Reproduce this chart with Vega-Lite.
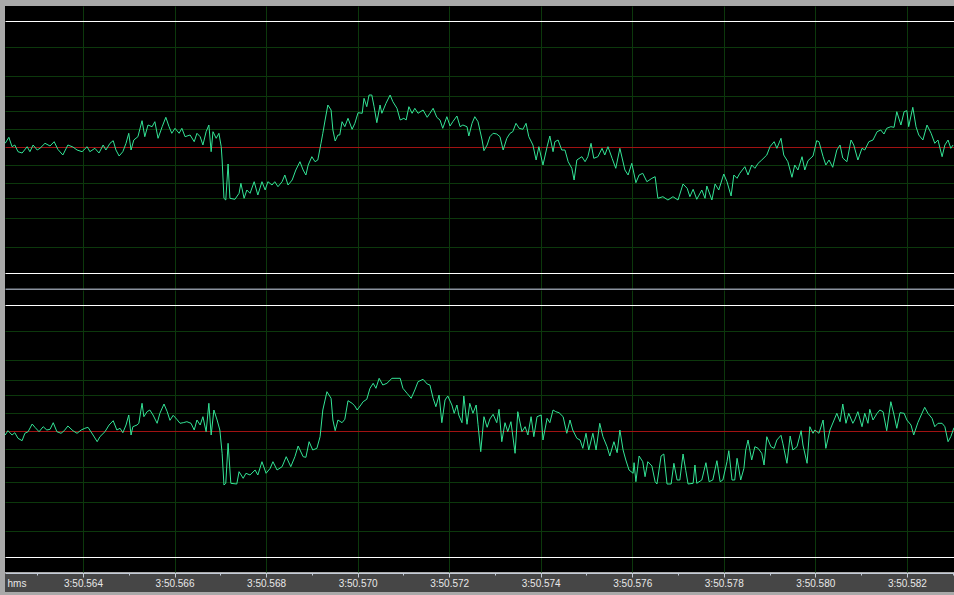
{
  "$schema": "https://vega.github.io/schema/vega-lite/v6.json",
  "background": "#a9a9a9",
  "padding": {"left": 5, "top": 6, "right": 0, "bottom": 4},
  "config": {
    "view": {"fill": "#000000", "stroke": null}
  },
  "datasets": {
    "L": [
      {"t":562.30,"v":3.7},{"t":562.38,"v":9.7},{"t":562.45,"v":0.3},{"t":562.51,"v":2},{"t":562.58,"v":-4.7},{"t":562.67,"v":-6},{"t":562.78,"v":0.3},{"t":562.84,"v":-4.7},{"t":562.91,"v":2},{"t":563.00,"v":-3},
      {"t":563.06,"v":-1.3},{"t":563.17,"v":3.7},{"t":563.28,"v":1},{"t":563.37,"v":5.3},{"t":563.45,"v":-2.3},{"t":563.56,"v":-8},{"t":563.67,"v":2},{"t":563.78,"v":0},{"t":563.87,"v":-3},{"t":563.98,"v":-4.7},
      {"t":564.09,"v":0.3},{"t":564.15,"v":-4.7},{"t":564.26,"v":-1.3},{"t":564.35,"v":-6},{"t":564.44,"v":2},{"t":564.50,"v":-3},{"t":564.59,"v":3.7},{"t":564.66,"v":6.3},{"t":564.72,"v":-3},{"t":564.79,"v":-9},
      {"t":564.87,"v":-4.7},{"t":564.94,"v":3.7},{"t":565.00,"v":13.7},{"t":565.05,"v":-3},{"t":565.11,"v":7},{"t":565.20,"v":10.3},{"t":565.29,"v":26.3},{"t":565.35,"v":10.3},{"t":565.42,"v":22},{"t":565.51,"v":20.3},
      {"t":565.57,"v":25.3},{"t":565.64,"v":8.7},{"t":565.73,"v":20.3},{"t":565.81,"v":29.7},{"t":565.88,"v":20.3},{"t":565.94,"v":13.7},{"t":566.01,"v":18.7},{"t":566.10,"v":13.7},{"t":566.16,"v":18.7},{"t":566.23,"v":10.3},
      {"t":566.34,"v":12},{"t":566.43,"v":5.3},{"t":566.49,"v":13.7},{"t":566.56,"v":10.3},{"t":566.62,"v":2},{"t":566.69,"v":15.3},{"t":566.75,"v":22},{"t":566.80,"v":-4.7},{"t":566.84,"v":15.3},{"t":566.91,"v":8.7},
      {"t":566.97,"v":13.7},{"t":567.02,"v":0.3},{"t":567.04,"v":-13},{"t":567.08,"v":-51.3},{"t":567.12,"v":-53},{"t":567.17,"v":-17},{"t":567.21,"v":-51.3},{"t":567.32,"v":-52.3},{"t":567.41,"v":-46.3},{"t":567.45,"v":-36.3},
      {"t":567.52,"v":-51.3},{"t":567.58,"v":-43},{"t":567.65,"v":-46.3},{"t":567.74,"v":-34.7},{"t":567.82,"v":-48},{"t":567.91,"v":-34.7},{"t":567.98,"v":-43},{"t":568.04,"v":-34.7},{"t":568.13,"v":-38},{"t":568.19,"v":-34.7},
      {"t":568.26,"v":-39.7},{"t":568.35,"v":-34.7},{"t":568.41,"v":-28},{"t":568.48,"v":-38},{"t":568.57,"v":-33},{"t":568.65,"v":-23},{"t":568.74,"v":-14.7},{"t":568.81,"v":-23},{"t":568.87,"v":-28},{"t":568.92,"v":-18},
      {"t":569.00,"v":-9.7},{"t":569.07,"v":-14.7},{"t":569.13,"v":-13},{"t":569.20,"v":3.7},{"t":569.24,"v":13.7},{"t":569.29,"v":27},{"t":569.35,"v":42},{"t":569.42,"v":37},{"t":569.46,"v":17},{"t":569.51,"v":6},
      {"t":569.57,"v":12},{"t":569.61,"v":12},{"t":569.66,"v":25.3},{"t":569.72,"v":20.3},{"t":569.79,"v":28.7},{"t":569.88,"v":17.7},{"t":569.94,"v":23.7},{"t":570.01,"v":34.3},{"t":570.10,"v":33.7},{"t":570.14,"v":48.7},
      {"t":570.20,"v":40.3},{"t":570.25,"v":52},{"t":570.31,"v":52},{"t":570.36,"v":40.3},{"t":570.42,"v":24.3},{"t":570.49,"v":42},{"t":570.53,"v":33.7},{"t":570.62,"v":43.7},{"t":570.71,"v":52},{"t":570.77,"v":45.3},
      {"t":570.86,"v":38.7},{"t":570.93,"v":27},{"t":571.01,"v":28.7},{"t":571.06,"v":27},{"t":571.12,"v":40.3},{"t":571.19,"v":33.7},{"t":571.25,"v":38.7},{"t":571.32,"v":33.7},{"t":571.43,"v":37},{"t":571.52,"v":29.7},
      {"t":571.58,"v":33.7},{"t":571.65,"v":38.7},{"t":571.73,"v":29.7},{"t":571.80,"v":27},{"t":571.86,"v":18.7},{"t":571.95,"v":30.3},{"t":572.02,"v":21},{"t":572.08,"v":25.3},{"t":572.17,"v":31},{"t":572.24,"v":20.3},
      {"t":572.30,"v":22},{"t":572.39,"v":20.3},{"t":572.43,"v":11},{"t":572.50,"v":23.7},{"t":572.56,"v":30.3},{"t":572.63,"v":25.3},{"t":572.72,"v":7},{"t":572.76,"v":-3.7},{"t":572.83,"v":2},{"t":572.89,"v":10.3},
      {"t":572.96,"v":13.7},{"t":573.04,"v":13},{"t":573.11,"v":10.3},{"t":573.18,"v":-3},{"t":573.26,"v":8.7},{"t":573.33,"v":13.7},{"t":573.39,"v":15.3},{"t":573.46,"v":23.7},{"t":573.53,"v":18.7},{"t":573.61,"v":17.7},
      {"t":573.68,"v":23.7},{"t":573.74,"v":10.3},{"t":573.83,"v":2},{"t":573.90,"v":-13},{"t":573.96,"v":0.3},{"t":574.05,"v":-18},{"t":574.14,"v":0.3},{"t":574.20,"v":11},{"t":574.27,"v":-4.7},{"t":574.31,"v":5.3},
      {"t":574.38,"v":7},{"t":574.46,"v":-3},{"t":574.53,"v":-3},{"t":574.60,"v":-14.7},{"t":574.68,"v":-21.3},{"t":574.73,"v":-33},{"t":574.79,"v":-13},{"t":574.90,"v":-9.7},{"t":574.97,"v":-14.7},{"t":575.03,"v":-9.7},
      {"t":575.10,"v":3.7},{"t":575.16,"v":-11.3},{"t":575.25,"v":-9.7},{"t":575.34,"v":-1.3},{"t":575.40,"v":-8},{"t":575.47,"v":0.3},{"t":575.56,"v":-11.3},{"t":575.64,"v":-21.3},{"t":575.73,"v":-1.3},{"t":575.84,"v":-23},
      {"t":575.91,"v":-28},{"t":575.99,"v":-16.3},{"t":576.08,"v":-35.7},{"t":576.15,"v":-28},{"t":576.23,"v":-26.3},{"t":576.32,"v":-34.7},{"t":576.43,"v":-31.3},{"t":576.50,"v":-29.7},{"t":576.56,"v":-51.3},{"t":576.67,"v":-49.7},
      {"t":576.78,"v":-53},{"t":576.89,"v":-49.7},{"t":577.00,"v":-53},{"t":577.11,"v":-37},{"t":577.20,"v":-41.3},{"t":577.26,"v":-49.7},{"t":577.33,"v":-42.3},{"t":577.41,"v":-52.3},{"t":577.52,"v":-43},{"t":577.59,"v":-51.3},
      {"t":577.63,"v":-39},{"t":577.74,"v":-53},{"t":577.81,"v":-37},{"t":577.89,"v":-43},{"t":578.00,"v":-27},{"t":578.07,"v":-34.7},{"t":578.16,"v":-49},{"t":578.22,"v":-28},{"t":578.29,"v":-31.3},{"t":578.35,"v":-26.3},
      {"t":578.46,"v":-19.7},{"t":578.53,"v":-28},{"t":578.61,"v":-18},{"t":578.68,"v":-21.3},{"t":578.75,"v":-16.3},{"t":578.83,"v":-13},{"t":578.94,"v":-8},{"t":579.01,"v":0.3},{"t":579.10,"v":5.3},{"t":579.16,"v":-1.3},
      {"t":579.25,"v":8.7},{"t":579.31,"v":-8},{"t":579.40,"v":-14.7},{"t":579.49,"v":-30.3},{"t":579.55,"v":-18},{"t":579.62,"v":-23},{"t":579.71,"v":-9.7},{"t":579.77,"v":-23},{"t":579.84,"v":-13.7},{"t":579.95,"v":-9},
      {"t":580.03,"v":6.3},{"t":580.08,"v":5.3},{"t":580.17,"v":-9.7},{"t":580.23,"v":-18},{"t":580.30,"v":-13},{"t":580.38,"v":-20.3},{"t":580.47,"v":-3},{"t":580.54,"v":2},{"t":580.60,"v":-11},{"t":580.69,"v":-14.7},
      {"t":580.78,"v":7},{"t":580.84,"v":2},{"t":580.93,"v":-13},{"t":581.02,"v":-1.3},{"t":581.08,"v":-3},{"t":581.17,"v":5.3},{"t":581.26,"v":7},{"t":581.35,"v":15.3},{"t":581.43,"v":17},{"t":581.50,"v":13},
      {"t":581.56,"v":18.7},{"t":581.65,"v":20.3},{"t":581.72,"v":19.7},{"t":581.78,"v":35.3},{"t":581.87,"v":22},{"t":581.94,"v":35.3},{"t":582.00,"v":36.3},{"t":582.04,"v":20.3},{"t":582.13,"v":39.7},{"t":582.20,"v":20.3},
      {"t":582.26,"v":12},{"t":582.35,"v":7},{"t":582.44,"v":22},{"t":582.53,"v":13.7},{"t":582.61,"v":3.7},{"t":582.68,"v":7},{"t":582.77,"v":-9.7},{"t":582.83,"v":2},{"t":582.90,"v":7},{"t":582.96,"v":-1.3},{"t":583.01,"v":2}
    ],
    "R": [
      {"t":562.30,"v":-4},{"t":562.36,"v":0.3},{"t":562.45,"v":-4},{"t":562.51,"v":-1.7},{"t":562.58,"v":-7.3},{"t":562.67,"v":-9.7},{"t":562.73,"v":-2.3},{"t":562.80,"v":-0.7},{"t":562.89,"v":7},{"t":562.95,"v":3.7},
      {"t":563.04,"v":-0.7},{"t":563.13,"v":4.3},{"t":563.21,"v":1},{"t":563.28,"v":1.7},{"t":563.35,"v":8.3},{"t":563.43,"v":-0.7},{"t":563.52,"v":-2.3},{"t":563.59,"v":0.3},{"t":563.67,"v":5},{"t":563.78,"v":0.3},
      {"t":563.87,"v":-2.3},{"t":563.96,"v":1},{"t":564.04,"v":2.7},{"t":564.11,"v":3.7},{"t":564.22,"v":-4},{"t":564.31,"v":-10.7},{"t":564.37,"v":-5.7},{"t":564.48,"v":-0.7},{"t":564.57,"v":6},{"t":564.66,"v":10.3},
      {"t":564.74,"v":1},{"t":564.81,"v":2.7},{"t":564.87,"v":-1.7},{"t":564.94,"v":6},{"t":565.00,"v":16},{"t":565.05,"v":-4},{"t":565.09,"v":4.3},{"t":565.18,"v":6},{"t":565.22,"v":7.7},{"t":565.29,"v":27.7},
      {"t":565.33,"v":14.3},{"t":565.40,"v":19.3},{"t":565.46,"v":21},{"t":565.53,"v":16},{"t":565.62,"v":7.7},{"t":565.68,"v":17.7},{"t":565.77,"v":27},{"t":565.84,"v":19.3},{"t":565.90,"v":10.7},{"t":565.97,"v":15.7},
      {"t":566.05,"v":11.7},{"t":566.12,"v":7.7},{"t":566.19,"v":8.3},{"t":566.27,"v":9.3},{"t":566.36,"v":7.7},{"t":566.43,"v":1},{"t":566.49,"v":11},{"t":566.56,"v":6},{"t":566.62,"v":14.3},{"t":566.69,"v":-0.7},
      {"t":566.75,"v":27.7},{"t":566.80,"v":-4},{"t":566.86,"v":21},{"t":566.93,"v":11},{"t":566.99,"v":1},{"t":567.04,"v":-22.3},{"t":567.08,"v":-54},{"t":567.12,"v":-52.3},{"t":567.17,"v":-12.3},{"t":567.23,"v":-52.3},
      {"t":567.36,"v":-53},{"t":567.41,"v":-40.7},{"t":567.50,"v":-47.3},{"t":567.56,"v":-42.3},{"t":567.65,"v":-44},{"t":567.76,"v":-39},{"t":567.82,"v":-44},{"t":567.91,"v":-30.7},{"t":568.00,"v":-42.3},{"t":568.09,"v":-37.3},
      {"t":568.15,"v":-30.7},{"t":568.24,"v":-39},{"t":568.35,"v":-35.7},{"t":568.44,"v":-25.7},{"t":568.54,"v":-35.7},{"t":568.63,"v":-25.7},{"t":568.70,"v":-15},{"t":568.81,"v":-25.7},{"t":568.87,"v":-26.3},{"t":568.94,"v":-10.7},
      {"t":569.02,"v":-19},{"t":569.11,"v":-17.3},{"t":569.18,"v":-5.7},{"t":569.24,"v":21},{"t":569.33,"v":39.3},{"t":569.42,"v":32.7},{"t":569.46,"v":11},{"t":569.51,"v":0.3},{"t":569.57,"v":11},{"t":569.66,"v":8.3},
      {"t":569.72,"v":11.7},{"t":569.79,"v":30.3},{"t":569.88,"v":27.7},{"t":569.94,"v":25},{"t":569.99,"v":21},{"t":570.07,"v":26},{"t":570.12,"v":29.3},{"t":570.20,"v":31.7},{"t":570.27,"v":42.7},{"t":570.34,"v":47.7},
      {"t":570.40,"v":42.7},{"t":570.47,"v":52.7},{"t":570.55,"v":46},{"t":570.64,"v":47.7},{"t":570.75,"v":52.7},{"t":570.93,"v":52.7},{"t":570.99,"v":42.7},{"t":571.08,"v":37.7},{"t":571.17,"v":32.7},{"t":571.25,"v":41},
      {"t":571.32,"v":49.3},{"t":571.43,"v":51.7},{"t":571.52,"v":47},{"t":571.58,"v":46},{"t":571.65,"v":32.7},{"t":571.71,"v":24.3},{"t":571.78,"v":36},{"t":571.84,"v":8.3},{"t":571.91,"v":31},{"t":571.97,"v":35},
      {"t":572.06,"v":26},{"t":572.11,"v":17.7},{"t":572.17,"v":26},{"t":572.21,"v":16},{"t":572.28,"v":8.3},{"t":572.32,"v":35},{"t":572.39,"v":6.7},{"t":572.45,"v":27.7},{"t":572.52,"v":17.7},{"t":572.59,"v":26},
      {"t":572.63,"v":6.7},{"t":572.69,"v":-20.7},{"t":572.76,"v":14.3},{"t":572.83,"v":3.7},{"t":572.89,"v":12},{"t":572.96,"v":16.7},{"t":573.04,"v":8.3},{"t":573.09,"v":21.7},{"t":573.15,"v":-10.7},{"t":573.22,"v":8.3},
      {"t":573.28,"v":-0.7},{"t":573.35,"v":9.3},{"t":573.44,"v":-22.3},{"t":573.50,"v":19.3},{"t":573.59,"v":-0.7},{"t":573.66,"v":4.3},{"t":573.72,"v":-4},{"t":573.79,"v":14.3},{"t":573.85,"v":-5.7},{"t":573.92,"v":14.3},
      {"t":574.01,"v":16},{"t":574.05,"v":-9},{"t":574.14,"v":12.7},{"t":574.20,"v":8.3},{"t":574.27,"v":21},{"t":574.33,"v":19.3},{"t":574.40,"v":18.3},{"t":574.49,"v":14.3},{"t":574.57,"v":-2.3},{"t":574.64,"v":11},
      {"t":574.70,"v":1},{"t":574.79,"v":-7.3},{"t":574.86,"v":-9},{"t":574.92,"v":-17.3},{"t":574.99,"v":-2.3},{"t":575.05,"v":-19},{"t":575.14,"v":-2.3},{"t":575.21,"v":-19},{"t":575.29,"v":7.7},{"t":575.36,"v":-5.7},
      {"t":575.45,"v":-15.7},{"t":575.51,"v":-25},{"t":575.60,"v":-10.7},{"t":575.67,"v":-21.7},{"t":575.73,"v":1},{"t":575.80,"v":-19},{"t":575.86,"v":-29},{"t":575.93,"v":-39},{"t":576.02,"v":-42.3},{"t":576.04,"v":-31.7},
      {"t":576.08,"v":-50.7},{"t":576.15,"v":-25},{"t":576.23,"v":-30.7},{"t":576.28,"v":-45.7},{"t":576.34,"v":-30.7},{"t":576.43,"v":-35},{"t":576.50,"v":-50.7},{"t":576.54,"v":-53},{"t":576.63,"v":-25},{"t":576.69,"v":-23},
      {"t":576.76,"v":-53},{"t":576.85,"v":-53},{"t":576.91,"v":-32.3},{"t":576.98,"v":-49},{"t":577.04,"v":-49},{"t":577.11,"v":-23},{"t":577.17,"v":-39.7},{"t":577.22,"v":-53},{"t":577.33,"v":-52.3},{"t":577.37,"v":-34},
      {"t":577.41,"v":-52.3},{"t":577.52,"v":-49},{"t":577.61,"v":-31.7},{"t":577.68,"v":-50.7},{"t":577.76,"v":-49},{"t":577.85,"v":-29.7},{"t":577.92,"v":-50.7},{"t":577.98,"v":-49},{"t":578.07,"v":-30.7},{"t":578.11,"v":-19.7},
      {"t":578.18,"v":-49},{"t":578.24,"v":-49},{"t":578.29,"v":-27.3},{"t":578.37,"v":-49},{"t":578.44,"v":-37.3},{"t":578.48,"v":-19},{"t":578.53,"v":-9},{"t":578.61,"v":-29},{"t":578.68,"v":-15.7},{"t":578.75,"v":-17.3},
      {"t":578.83,"v":-22.3},{"t":578.88,"v":-34},{"t":578.94,"v":-5.7},{"t":579.03,"v":-15.7},{"t":579.10,"v":-17.3},{"t":579.16,"v":-9},{"t":579.25,"v":-4.3},{"t":579.29,"v":-12.3},{"t":579.38,"v":-32.3},{"t":579.45,"v":-5},
      {"t":579.51,"v":-19},{"t":579.60,"v":-15.7},{"t":579.69,"v":0.3},{"t":579.73,"v":-14},{"t":579.82,"v":-32.3},{"t":579.88,"v":4.3},{"t":579.95,"v":-2.3},{"t":579.99,"v":1},{"t":580.08,"v":-2.3},{"t":580.17,"v":11},
      {"t":580.23,"v":-17.3},{"t":580.32,"v":1},{"t":580.41,"v":11},{"t":580.47,"v":17.7},{"t":580.54,"v":9.3},{"t":580.60,"v":27},{"t":580.67,"v":7.7},{"t":580.73,"v":17.7},{"t":580.82,"v":7.7},{"t":580.86,"v":11},
      {"t":580.93,"v":19.3},{"t":581.02,"v":4.3},{"t":581.08,"v":17.7},{"t":581.15,"v":7.7},{"t":581.19,"v":21.7},{"t":581.26,"v":11},{"t":581.35,"v":17.7},{"t":581.41,"v":21},{"t":581.48,"v":19.3},{"t":581.56,"v":0.3},
      {"t":581.65,"v":29.3},{"t":581.72,"v":16},{"t":581.78,"v":2.7},{"t":581.85,"v":18.3},{"t":581.94,"v":17.7},{"t":582.00,"v":11},{"t":582.09,"v":6},{"t":582.15,"v":-4},{"t":582.24,"v":8.3},{"t":582.33,"v":17.7},
      {"t":582.39,"v":23.7},{"t":582.46,"v":17.7},{"t":582.55,"v":12.7},{"t":582.61,"v":4.3},{"t":582.68,"v":7.7},{"t":582.77,"v":7.7},{"t":582.83,"v":4.3},{"t":582.90,"v":-10.7},{"t":582.96,"v":-5.7},{"t":583.03,"v":3.3}
    ]
  },
  "spacing": 0,
  "vconcat": [
    {
      "width": 949,
      "height": 284,
      "data": {"name": "L"},
      "mark": {"type": "line", "color": "#33e496", "strokeWidth": 1, "clip": true},
      "encoding": {
        "x": {"field": "t", "type": "quantitative",
          "scale": {"domain": [562.296, 583.03], "nice": false, "zero": false},
          "axis": {"values": [564,566,568,570,572,574,576,578,580,582], "grid": true, "gridColor": "#0c380c", "gridWidth": 1, "domain": false, "ticks": false, "labels": false, "title": null, "minExtent": 0}},
        "y": {"field": "v", "type": "quantitative",
          "scale": {"domain": [-143, 141], "nice": false, "zero": false},
          "axis": {"values": [-142,-126,-100,-71,-51,-36,-18,0,18,36,51,71,100,126], "grid": true,
            "gridColor": {"condition": [{"test": "datum.value === 0", "value": "#a01212"}, {"test": "abs(datum.value) === 126", "value": "#ffffff"}, {"test": "datum.value === -142", "value": "#8a929e"}], "value": "#0c380c"},
            "gridWidth": {"condition": {"test": "datum.value === -142", "value": 2}, "value": 1},
            "domain": false, "ticks": false, "labels": false, "title": null, "minExtent": 0}}
      }
    },
    {
      "width": 949,
      "height": 282,
      "data": {"name": "R"},
      "mark": {"type": "line", "color": "#33e496", "strokeWidth": 1, "clip": true},
      "encoding": {
        "x": {"field": "t", "type": "quantitative",
          "scale": {"domain": [562.296, 583.03], "nice": false, "zero": false},
          "axis": {"values": [564,566,568,570,572,574,576,578,580,582], "grid": true, "gridColor": "#0c380c", "gridWidth": 1, "domain": false, "ticks": false, "labels": false, "title": null, "minExtent": 0}},
        "y": {"field": "v", "type": "quantitative",
          "scale": {"domain": [-141, 141], "nice": false, "zero": false},
          "axis": {"values": [-126,-100,-71,-51,-36,-18,0,18,36,51,71,100,126], "grid": true,
            "gridColor": {"condition": [{"test": "datum.value === 0", "value": "#a01212"}, {"test": "abs(datum.value) === 126", "value": "#ffffff"}], "value": "#0c380c"},
            "gridWidth": 1, "domain": false, "ticks": false, "labels": false, "title": null, "minExtent": 0}}
      }
    },
    {
      "width": 949,
      "height": 19,
      "view": {"fill": "#464646", "stroke": null},
      "data": {"name": "L"},
      "mark": {"type": "point", "opacity": 0, "size": 0, "strokeWidth": 0},
      "encoding": {
        "x": {"field": "t", "type": "quantitative",
          "scale": {"domain": [562.296, 583.03], "nice": false, "zero": false},
          "axis": {"orient": "bottom", "offset": -19, "values": [563,564,565,566,567,568,569,570,571,572,573,574,575,576,577,578,579,580,581,582,583],
            "grid": false, "domainColor": "#c4ccd8", "domainWidth": 1, "tickColor": "#c4ccd8", "tickWidth": 1,
            "tickSize": {"condition": {"test": "datum.value % 2 === 0", "value": 4}, "value": 2},
            "labelExpr": "datum.value % 2 === 0 ? '3:50.' + datum.value : ''", "labelColor": "#e8e8e8", "labelFont": "Liberation Sans", "labelFontSize": 10,
            "labelBaseline": "alphabetic", "labelPadding": 9.5, "labelFlush": false, "labelOverlap": false,
            "title": "hms", "titleX": 2, "titleY": 13.5, "titleAlign": "left", "titleAnchor": "start", "titleBaseline": "alphabetic", "titleAngle": 0,
            "titleFont": "Liberation Sans", "titleFontSize": 10, "titleFontWeight": "normal", "titleColor": "#e8e8e8"}}
      }
    }
  ]
}
